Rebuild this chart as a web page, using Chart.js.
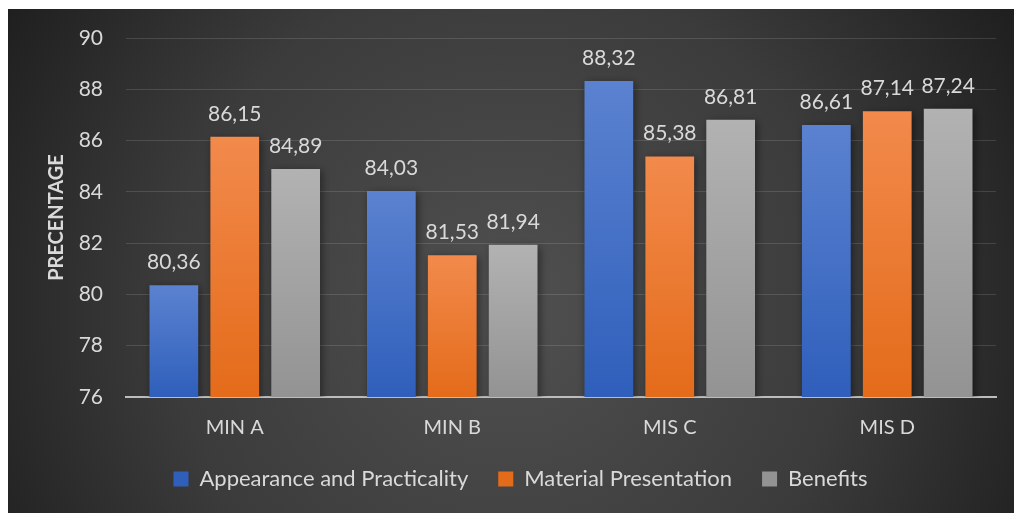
<!DOCTYPE html>
<html>
<head>
<meta charset="utf-8">
<script src="https://cdn.jsdelivr.net/npm/chart.js@4"></script>
<style>
  html, body { margin: 0; padding: 0; background: #fff; }
  #wrap { position: absolute; left: 8px; top: 9px; width: 1006px; height: 504px; }
</style>
</head>
<body>
<div id="wrap"><canvas id="barChart"></canvas></div>
<script>
const categories = ["MIN A", "MIN B", "MIS C", "MIS D"];
const seriesNames = ["Appearance and Practicality", "Material Presentation", "Benefits"];
const appearance = [80.36, 84.03, 88.32, 86.61];
const material = [86.15, 81.53, 85.38, 87.14];
const benefits = [84.89, 81.94, 86.81, 87.24];
const yTicks = [76, 78, 80, 82, 84, 86, 88, 90];

const textColor = "#d9d9d9";
const fontFamily = "Lato, 'Open Sans', sans-serif";

// top / bottom colours of each series gradient
const shades = [
  ["#5b82d0", "#2f5fbb"],
  ["#f28a4c", "#e46b1a"],
  ["#b2b2b2", "#939393"]
];

function barFill(idx) {
  return function (ctx) {
    let chart = ctx.chart;
    if (!chart.chartArea || ctx.type !== "data") return shades[idx][1];
    let y = chart.scales.y;
    let top = y.getPixelForValue(ctx.raw);
    let bottom = y.getPixelForValue(y.min);
    let g = chart.ctx.createLinearGradient(0, top, 0, bottom);
    g.addColorStop(0, shades[idx][0]);
    g.addColorStop(1, shades[idx][1]);
    return g;
  };
}

let background = {
  id: "background",
  beforeDraw(chart) {
    let c = chart.ctx;
    let w = chart.width, h = chart.height;
    let g = c.createRadialGradient(500, 300, 0, 500, 300, 620);
    g.addColorStop(0, "#505050");
    g.addColorStop(0.55, "#3b3b3b");
    g.addColorStop(1, "#1b1b1b");
    c.save();
    c.fillStyle = g;
    c.fillRect(0, 0, w, h);
    c.restore();
  }
};

let shadow = {
  id: "shadow",
  beforeDatasetsDraw(chart) {
    let c = chart.ctx;
    c.save();
    c.shadowColor = "rgba(0,0,0,0.45)";
    c.shadowBlur = 8;
    c.shadowOffsetX = 2;
    c.shadowOffsetY = 2;
  },
  afterDatasetsDraw(chart) {
    chart.ctx.restore();
  }
};

let valueLabels = {
  id: "valueLabels",
  afterDatasetsDraw(chart) {
    let c = chart.ctx;
    c.save();
    c.fillStyle = textColor;
    c.font = "21px " + fontFamily;
    c.textAlign = "center";
    c.textBaseline = "alphabetic";
    chart.data.datasets.forEach((ds, i) => {
      chart.getDatasetMeta(i).data.forEach((bar, j) => {
        c.fillText(ds.data[j].toFixed(2).replace(".", ","), bar.x, bar.y - 16);
      });
    });
    c.restore();
  }
};

let barCtx = document.getElementById("barChart").getContext("2d");

let barChart = new Chart(barCtx, {
  type: "bar",
  data: {
    labels: categories,
    datasets: [
      { label: seriesNames[0], data: appearance, backgroundColor: barFill(0) },
      { label: seriesNames[1], data: material, backgroundColor: barFill(1) },
      { label: seriesNames[2], data: benefits, backgroundColor: barFill(2) }
    ]
  },
  options: {
    responsive: true,
    maintainAspectRatio: false,
    animation: false,
    layout: { padding: { left: 37, right: 18, top: 29, bottom: 13 } },
    datasets: { bar: { categoryPercentage: 0.84, barPercentage: 0.8 } },
    scales: {
      x: {
        afterFit(scale) { scale.height -= 21; },
        grid: { display: false, drawTicks: false },
        border: { display: true, color: "#bdbdbd", width: 2 },
        ticks: { color: textColor, font: { family: fontFamily, size: 20 }, padding: 19 }
      },
      y: {
        min: 76,
        max: 90,
        afterBuildTicks(scale) { scale.ticks = yTicks.map(v => ({ value: v })); },
        afterFit(scale) { scale.width = 81; },
        grid: {
          color: "rgba(255,255,255,0.13)",
          lineWidth: 1,
          drawTicks: true,
          tickLength: 18,
          tickColor: "rgba(0,0,0,0)"
        },
        border: { display: false },
        ticks: { color: textColor, font: { family: fontFamily, size: 21 }, padding: 5 },
        title: {
          display: true,
          text: "PRECENTAGE",
          color: textColor,
          font: { family: fontFamily, size: 20, weight: "bold" },
          padding: 0
        }
      }
    },
    plugins: {
      legend: {
        position: "bottom",
        labels: {
          color: textColor,
          font: { family: fontFamily, size: 22 },
          boxWidth: 15,
          boxHeight: 15,
          padding: 30
        }
      },
      tooltip: { enabled: false }
    }
  },
  plugins: [background, shadow, valueLabels]
});
</script>
</body>
</html>
